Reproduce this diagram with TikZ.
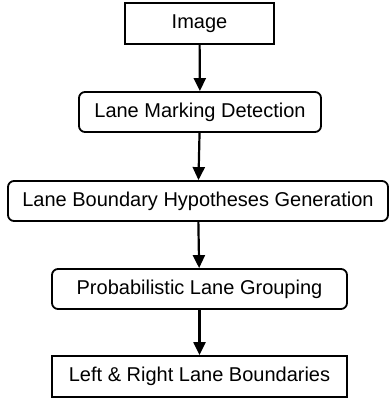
\documentclass[tikz,border=0pt]{standalone}
\usepackage{fontspec}
\setmainfont{Liberation Sans}
\usepackage{tikz}
\usetikzlibrary{arrows.meta,positioning}

\begin{document}
\begin{tikzpicture}[x=1pt, y=-1pt, ->, >={Triangle[width=12pt,length=13pt]},
		box/.style={draw, line width=1.8pt, inner sep=0pt, font=\fontsize{20}{24}\selectfont},
		rbox/.style={box, rounded corners=6pt}]
		\useasboundingbox (0,0) rectangle (390,398);
		\node[box, minimum width=149pt, minimum height=41pt]  (img)   at (199.5, 23.5) {Image};
		\node[rbox, minimum width=242pt, minimum height=40pt] (mark)  at (200, 112)    {Lane Marking Detection};
		\node[rbox, minimum width=380pt, minimum height=40pt] (hyp)   at (198, 201)    {Lane Boundary Hypotheses Generation};
		\node[rbox, minimum width=295pt, minimum height=40pt] (group) at (199.5, 289)  {Probabilistic Lane Grouping};
		\node[box, minimum width=295pt, minimum height=41pt]  (bound) at (199.5, 376.5) {Left \& Right Lane Boundaries};

		% flow
		\path[line width=2.2pt]
			(img)   edge (mark)
			(mark)  edge (hyp)
			(hyp)   edge (group)
			(group) edge (bound);
	\end{tikzpicture}
\end{document}
